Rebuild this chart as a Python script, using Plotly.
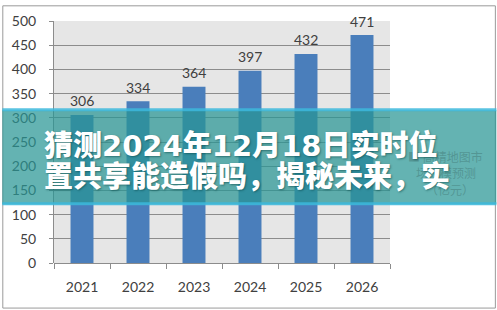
import plotly.graph_objects as go
import re

years = ["2021", "2022", "2023", "2024", "2025", "2026"]
values = [306, 334, 364, 397, 432, 471]
y_ticks = [0, 50, 100, 150, 200, 250, 300, 350, 400, 450, 500]
title_line1 = "猜测2024年12月18日实时位"
title_line2 = "置共享能造假吗，揭秘未来，实"
legend_lines = ["■ 高精地图市", "场规模预测", "（亿元）"]

W, H = 497, 310
L, R, T, B = 52, 107, 16, 47
PW, PH = W - L - R, H - T - B

def xp(px):
    return (px - L) / PW

def yp(py):
    return (H - B - py) / PH

def wide_digits(s):
    return re.sub(r"(\d+)", r"<span style='font-family:DejaVu Sans'>\1</span>", s)

fig = go.Figure()
fig.add_trace(go.Bar(
    x=years, y=values, width=0.41,
    marker=dict(color="#4a7ebb", line=dict(width=0)),
))

shapes = []
shapes.append(dict(type="rect", xref="paper", yref="paper",
                   x0=xp(0.5), x1=xp(496), y0=yp(309), y1=yp(0.5),
                   line=dict(color="#9a9a9a", width=1), fillcolor="rgba(0,0,0,0)", layer="below"))
shapes.append(dict(type="rect", xref="paper", yref="paper",
                   x0=xp(0), x1=xp(W), y0=yp(203), y1=yp(107),
                   line=dict(width=0), fillcolor="rgba(40,150,148,0.72)", layer="above"))
for a, b in [(105, 108), (201, 204)]:
    shapes.append(dict(type="rect", xref="paper", yref="paper",
                       x0=xp(0), x1=xp(W), y0=yp(b), y1=yp(a),
                       line=dict(width=0), fillcolor="rgba(60,185,220,0.85)", layer="above"))

annotations = []
for i, v in enumerate(values):
    annotations.append(dict(x=i, y=v, xref="x", yref="y", yanchor="middle", yshift=14,
                            showarrow=False, text=str(v),
                            font=dict(family="Lato", size=14, color="#404040")))
leg_pos = [(406, 154), (414, 171), (424, 188)]
for t, (lx, ly) in zip(legend_lines, leg_pos):
    annotations.append(dict(xref="paper", yref="paper", x=xp(lx), y=yp(ly),
                            xanchor="left", yanchor="middle", showarrow=False,
                            text=t, font=dict(family="Noto Sans CJK SC", size=12,
                                              color="rgba(70,125,122,0.55)")))
for t, cy, fs in [(wide_digits(title_line1), 141, 29), (title_line2, 172, 29)]:
    annotations.append(dict(xref="paper", yref="paper", x=xp(40), y=yp(cy),
                            xanchor="left", yanchor="middle", showarrow=False,
                            text=t,
                            font=dict(family="Noto Sans CJK SC", size=fs, color="white",
                                      weight=900,
                                      shadow="1px 1px 2px rgba(0,60,60,0.5)")))

fig.update_layout(
    width=W, height=H,
    margin=dict(l=L, r=R, t=T, b=B, pad=0),
    paper_bgcolor="white", plot_bgcolor="#e6e6e6",
    showlegend=False,
    shapes=shapes, annotations=annotations,
    xaxis=dict(type="category", range=[-0.5, len(years) - 0.5], showgrid=False,
               ticks="outside", tickson="boundaries",
               ticklen=5, tickcolor="#8c8c8c", showline=False,
               tickfont=dict(family="Lato", size=14, color="#404040"),
               ticklabelstandoff=14),
    yaxis=dict(range=[0, 500], tickvals=y_ticks, showgrid=True, gridcolor="#8c8c8c", gridwidth=1,
               zeroline=True, zerolinecolor="#8c8c8c", zerolinewidth=1,
               showline=True, linecolor="#8c8c8c", linewidth=1,
               ticks="outside", ticklen=4, tickcolor="#8c8c8c",
               tickfont=dict(family="Lato", size=14, color="#404040"),
               ticklabelstandoff=10),
)

fig.write_html("out.html")
